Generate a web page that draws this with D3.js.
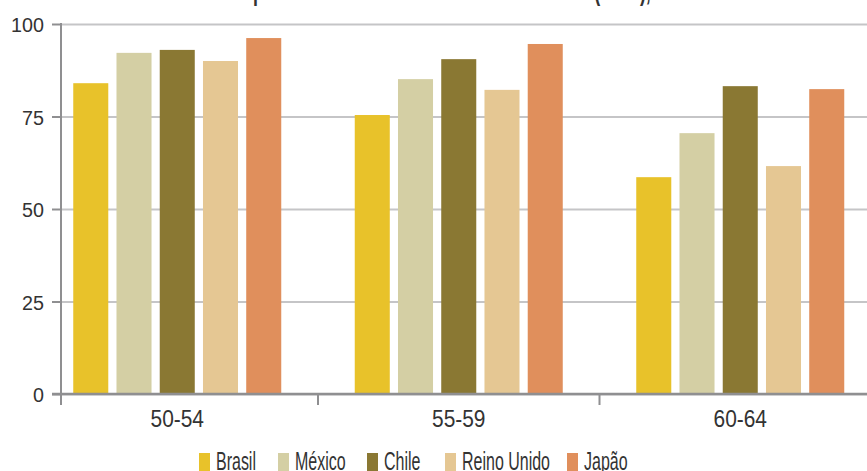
<!DOCTYPE html>
<html>
<head>
<meta charset="utf-8">
<script src="https://cdn.jsdelivr.net/npm/d3@7"></script>
<style>
  html, body { margin: 0; padding: 0; background: #fff; }
  svg { display: block; }
  text { font-family: "Liberation Sans", Arial, sans-serif; fill: #333; }
</style>
</head>
<body>
<svg id="chart" width="867" height="471"></svg>
<script>
// Age groups on the x axis
const categories = ["50-54", "55-59", "60-64"];
// Countries (one bar per country in each age group)
const series = ["Brasil", "México", "Chile", "Reino Unido", "Japão"];
const colors = ["#E8C22A", "#D4CFA4", "#8A7833", "#E5C793", "#E08F5C"];
// Values per country, in the order of the age groups
const brasil = [84.0, 75.4, 58.6];
const mexico = [92.2, 85.1, 70.5];
const chile = [93.0, 90.5, 83.2];
const reinoUnido = [90.0, 82.2, 61.6];
const japao = [96.2, 94.6, 82.4];
const yTicks = [0, 25, 50, 75, 100];
const titleText = "Impacto da idade no trabalho dos homens (2010),";

const values = [brasil, mexico, chile, reinoUnido, japao];
const rows = categories.map((c, i) => ({
  cat: c,
  vals: series.map((s, j) => ({ key: s, value: values[j][i], color: colors[j] }))
}));

const svg = d3.select("#chart");
const W = 867;

const y = d3.scaleLinear().domain([0, 100]).range([394, 24]);
const x = d3.scaleBand().domain(categories).range([36.5, 881]).padding(0);
const groupWidth = 208;
const xs = d3.scaleBand().domain(series).range([0, groupWidth]).paddingInner(0.19).paddingOuter(0);
const axisX = 61;

// Condensed text: draw at an anchor and squeeze horizontally
function squeeze(sel, sx) {
  sel.each(function () {
    const t = d3.select(this);
    const tx = +t.attr("x") || 0, ty = +t.attr("y") || 0;
    t.attr("x", 0).attr("y", 0).attr("transform", `translate(${tx},${ty}) scale(${sx},1)`);
  });
}

// Title (top edge of the canvas)
svg.append("text")
  .attr("x", W / 2 + 8).attr("y", 0)
  .attr("text-anchor", "middle")
  .style("font-size", "27px").style("font-weight", "bold")
  .text(titleText)
  .call(squeeze, 0.66);

// Horizontal gridlines
const grid = svg.append("g").attr("transform", `translate(${axisX},0)`)
  .call(d3.axisLeft(y).tickValues(yTicks).tickSize(-(W - axisX)).tickFormat(""));
grid.select(".domain").remove();
grid.selectAll(".tick line").attr("stroke", "#c5c5c7").attr("stroke-width", 2);

// Bars
const groups = svg.append("g").selectAll("g")
  .data(rows).join("g")
  .attr("transform", d => `translate(${x(d.cat) + (x.bandwidth() - groupWidth) / 2},0)`);
groups.selectAll("rect")
  .data(d => d.vals).join("rect")
  .attr("x", d => xs(d.key))
  .attr("width", xs.bandwidth())
  .attr("y", d => y(d.value))
  .attr("height", d => y(0) - y(d.value))
  .attr("fill", d => d.color);

// Y axis with tick labels
const yAxis = svg.append("g").attr("transform", `translate(${axisX},0)`)
  .call(d3.axisLeft(y).tickValues(yTicks).tickSize(9).tickPadding(0).tickFormat(d3.format("d")));
yAxis.select(".domain").remove();
yAxis.selectAll(".tick line").attr("stroke", "#8f8f91").attr("stroke-width", 2);
yAxis.selectAll(".tick text")
  .attr("dy", null)
  .style("font-size", "21px").style("font-family", null)
  .attr("text-anchor", "end")
  .each(function () {
    d3.select(this).attr("x", 0).attr("y", 0)
      .attr("transform", "translate(-17,7.5) scale(0.94,1)");
  });
svg.append("line")
  .attr("x1", axisX).attr("x2", axisX)
  .attr("y1", y(100) - 1).attr("y2", y(0) + 11)
  .attr("stroke", "#8f8f91").attr("stroke-width", 2);

// X axis baseline
svg.append("line")
  .attr("x1", axisX - 9).attr("x2", W)
  .attr("y1", y(0)).attr("y2", y(0))
  .attr("stroke", "#8f8f91").attr("stroke-width", 2.5);

// Tick marks between age groups
svg.append("g").selectAll("line")
  .data(categories.slice(1)).join("line")
  .attr("x1", d => x(d)).attr("x2", d => x(d))
  .attr("y1", y(0)).attr("y2", y(0) + 11)
  .attr("stroke", "#8f8f91").attr("stroke-width", 2);

// Category labels
const xAxis = svg.append("g").attr("transform", `translate(0,${y(0)})`)
  .call(d3.axisBottom(x).tickSize(0).tickPadding(0));
xAxis.select(".domain").remove();
xAxis.selectAll(".tick text")
  .style("font-size", "23.5px").style("font-family", null)
  .attr("dy", null)
  .each(function () {
    d3.select(this).attr("y", 0).attr("transform", "translate(0,33) scale(0.89,1)");
  });

// Legend
const legendPos = [199, 278, 367, 445, 567];
const legend = svg.append("g").selectAll("g")
  .data(series).join("g")
  .attr("transform", (d, i) => `translate(${legendPos[i]},0)`);
legend.append("rect")
  .attr("x", 0).attr("y", 453).attr("width", 11).attr("height", 18)
  .attr("fill", (d, i) => colors[i]);
legend.append("text")
  .attr("x", 17).attr("y", 470)
  .style("font-size", "25px")
  .text(d => d)
  .call(squeeze, 0.64);
</script>
</body>
</html>
